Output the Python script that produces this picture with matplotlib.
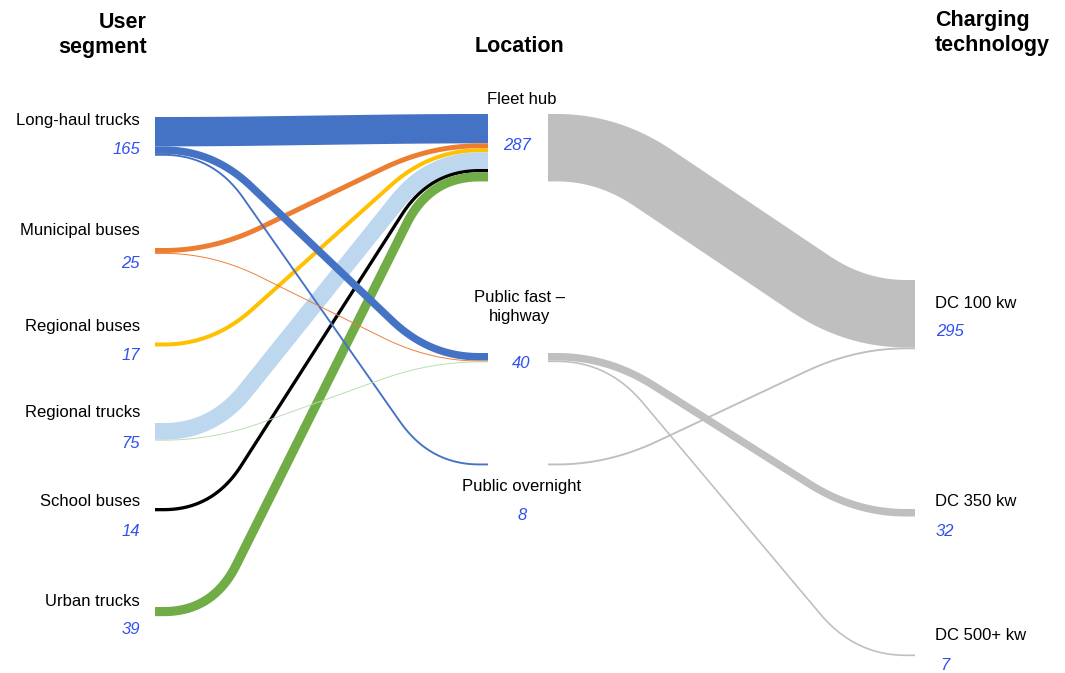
import numpy as np
import matplotlib
matplotlib.use("Agg")
import matplotlib.pyplot as plt

plt.rcParams['font.family'] = ['Liberation Sans', 'DejaVu Sans']

# ---------------- data ----------------
segments = ["Long-haul trucks", "Municipal buses", "Regional buses",
            "Regional trucks", "School buses", "Urban trucks"]
segment_totals = [165, 25, 17, 75, 14, 39]
locations = ["Fleet hub", "Public fast –\nhighway", "Public overnight"]
location_totals = [287, 40, 8]
technologies = ["DC 100 kw", "DC 350 kw", "DC 500+ kw"]
technology_totals = [295, 32, 7]

# flows: segment -> location (Fleet hub, Public fast, Public overnight)
segment_to_location = [
    [125, 32, 8],
    [21, 4, 0],
    [17, 0, 0],
    [71, 4, 0],
    [14, 0, 0],
    [39, 0, 0],
]
# flows: location -> technology (DC 100, DC 350, DC 500+)
location_to_technology = [
    [287, 0, 0],
    [0, 32, 7],
    [8, 0, 0],
]

# ---------------- style / layout ----------------
segment_colors = ["#4472C4", "#ED7D31", "#FFC000", "#BDD7EE", "#000000", "#70AD47"]
special_colors = {(3, 1): "#B5DDB0"}
grey = "#BFBFBF"
num_color = "#3050EE"

X_LEFT, X_MID_IN, X_MID_OUT, X_RIGHT = 155, 488, 548, 915
SCALE = 0.235  # px per unit
left_tops = [117, 248, 342.5, 423, 508, 607]
mid_tops = [114, 353, 463.5]
right_tops = [280, 509, 654.5]

fig = plt.figure(figsize=(10.65, 6.73), dpi=100)
ax = fig.add_axes([0, 0, 1, 1])
ax.set_xlim(0, 1065)
ax.set_ylim(673, 0)
ax.axis('off')


def flow_curve(x0, y0, x1, y1, b, n=30):
    A = np.array([x0, y0], float)
    B = np.array([x0 + b, y0], float)
    C = np.array([x1 - b, y1], float)
    D = np.array([x1, y1], float)
    v = C - B
    L = np.hypot(*v)
    u = v / L if L > 0 else np.array([1.0, 0.0])
    d = min(0.9 * b, L / 2)
    dh = 0.85 * b
    S1 = B - np.array([dh, 0])
    E = B + u * d
    F = C - u * d
    S2 = C + np.array([dh, 0])
    t = np.linspace(0, 1, n)[:, None]
    q1 = (1 - t) ** 2 * S1 + 2 * (1 - t) * t * B + t ** 2 * E
    q2 = (1 - t) ** 2 * F + 2 * (1 - t) * t * C + t ** 2 * S2
    pts = np.vstack([A, q1, q2, D])
    return pts[:, 0], pts[:, 1]


def draw_stage(matrix, src_tops, dst_tops, xs, xd, b, color_fn, order):
    n_src = len(matrix)
    n_dst = len(matrix[0])
    src_off = [0.0] * n_src
    dst_off = [0.0] * n_dst
    flows = []
    for i in range(n_src):
        for j in range(n_dst):
            v = matrix[i][j]
            if v <= 0:
                continue
            w = v * SCALE
            y0 = src_tops[i] + src_off[i] + w / 2
            src_off[i] += w
            flows.append([i, j, w, y0])
    for f in sorted(flows, key=lambda f: (f[1], f[0])):
        i, j, w, y0 = f
        f.append(dst_tops[j] + dst_off[j] + w / 2)
        dst_off[j] += w
    for f in sorted(flows, key=order):
        i, j, w, y0, y1 = f
        xx, yy = flow_curve(xs, y0, xd, y1, b)
        ax.plot(xx, yy, color=color_fn(i, j), lw=max(w, 0.6) * 72 / 100,
                solid_capstyle='butt', solid_joinstyle='round', zorder=2)


draw_stage(segment_to_location, left_tops, mid_tops, X_LEFT, X_MID_IN, 58,
           lambda i, j: special_colors.get((i, j), segment_colors[i]),
           order=lambda f: (f[1] != 0, f[0]))
draw_stage(location_to_technology, mid_tops, right_tops, X_MID_OUT, X_RIGHT, 60,
           lambda i, j: grey, order=lambda f: (f[0] == 2, f[0]))

# ---------------- text ----------------
FS = 12
ax.text(147, 35, "User\nsegment", ha='right', va='center', fontsize=15.5,
        fontweight='bold', multialignment='right', linespacing=1.2)
ax.text(519, 47, "Location", ha='center', va='center', fontsize=15.5, fontweight='bold')
ax.text(935, 33, "Charging\ntechnology", ha='left', va='center', fontsize=15.5,
        fontweight='bold', multialignment='left', linespacing=1.2)

seg_label_y = [121, 231, 327, 413, 501, 602]
seg_num_y = [149, 263, 355, 443, 531, 630]
for name, tot, ly, ny in zip(segments, segment_totals, seg_label_y, seg_num_y):
    ax.text(140, ly, name, ha='right', va='center', fontsize=FS)
    ax.text(140, ny, f"{tot}", ha='right', va='center', fontsize=FS,
            style='italic', color=num_color)

loc_label_xy = [(522, 100), (520, 307), (522, 487)]
loc_num_xy = [(517, 146), (521, 363), (522, 515)]
for name, tot, (lx, ly), (nx, ny) in zip(locations, location_totals, loc_label_xy, loc_num_xy):
    ax.text(lx, ly, name, ha='center', va='center', fontsize=FS,
            multialignment='center', linespacing=1.3)
    ax.text(nx, ny, f"{tot}", ha='center', va='center', fontsize=FS,
            style='italic', color=num_color)

tech_label_y = [303, 502, 636]
tech_num_xy = [(936, 332), (936, 531), (940, 665)]
for name, tot, ly, (nx, ny) in zip(technologies, technology_totals, tech_label_y, tech_num_xy):
    ax.text(935, ly, name, ha='left', va='center', fontsize=FS)
    ax.text(nx, ny, f"{tot}", ha='left', va='center', fontsize=FS,
            style='italic', color=num_color)

fig.savefig("out.png", dpi=100)
